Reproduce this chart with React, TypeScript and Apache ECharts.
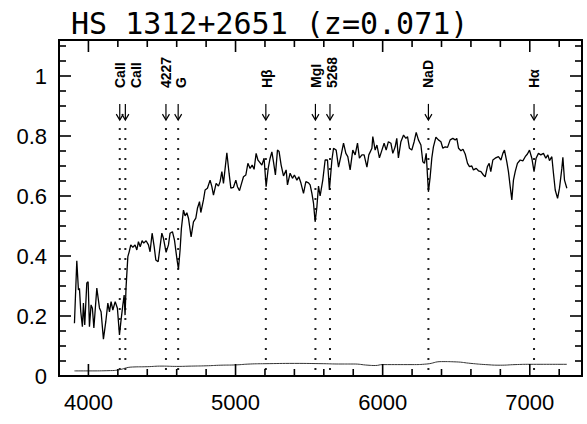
import React, { useEffect, useRef } from "react";
import * as echarts from "echarts";

const titleText = "HS 1312+2651 (z=0.071)";

const wavelength = [
  3905, 3921, 3932, 3939, 3948, 3959, 3966, 3975, 3989, 3998, 4007, 4018, 4027, 4037, 4057, 4075, 4086, 4102, 4118, 4132,
  4143, 4154, 4166, 4182, 4197, 4211, 4222, 4234, 4243, 4249, 4256, 4268, 4277, 4288, 4302, 4317, 4329, 4340, 4352, 4365,
  4376, 4392, 4408, 4419, 4433, 4447, 4458, 4474, 4487, 4499, 4510, 4528, 4544, 4555, 4571, 4585, 4601, 4612, 4623, 4632,
  4646, 4657, 4669, 4680, 4698, 4714, 4730, 4741, 4755, 4764, 4782, 4793, 4809, 4827, 4839, 4850, 4868, 4884, 4895, 4907,
  4918, 4941, 4956, 4968, 4986, 5002, 5013, 5027, 5038, 5054, 5070, 5084, 5099, 5113, 5126, 5140, 5152, 5162, 5179, 5194,
  5208, 5222, 5235, 5247, 5258, 5271, 5285, 5296, 5310, 5326, 5344, 5353, 5371, 5387, 5400, 5417, 5430, 5444, 5462, 5478,
  5496, 5507, 5519, 5530, 5541, 5553, 5564, 5575, 5593, 5609, 5625, 5638, 5655, 5666, 5684, 5700, 5718, 5734, 5750, 5763,
  5779, 5797, 5813, 5829, 5842, 5859, 5874, 5893, 5906, 5927, 5933, 5949, 5961, 5978, 5995, 6010, 6024, 6039, 6056, 6069,
  6085, 6096, 6107, 6124, 6142, 6158, 6169, 6182, 6198, 6214, 6228, 6243, 6260, 6273, 6284, 6296, 6311, 6323, 6334, 6345,
  6362, 6379, 6396, 6409, 6425, 6441, 6459, 6477, 6493, 6504, 6516, 6532, 6546, 6561, 6577, 6590, 6606, 6617, 6636, 6651,
  6668, 6685, 6697, 6712, 6724, 6735, 6749, 6765, 6787, 6804, 6817, 6828, 6844, 6855, 6867, 6878, 6889, 6901, 6916, 6935,
  6953, 6969, 6984, 6998, 7014, 7029, 7043, 7059, 7075, 7093, 7109, 7123, 7134, 7150, 7161, 7173, 7189, 7202, 7218, 7225,
  7236, 7252,
];

const flux = [
  0.176, 0.384, 0.287, 0.292, 0.214, 0.164, 0.243, 0.17, 0.31, 0.314, 0.164, 0.237, 0.226, 0.16, 0.293, 0.227, 0.214, 0.123, 0.181, 0.243,
  0.214, 0.248, 0.22, 0.248, 0.226, 0.137, 0.187, 0.237, 0.27, 0.203, 0.298, 0.398, 0.414, 0.437, 0.429, 0.437, 0.42, 0.448, 0.431, 0.451,
  0.443, 0.451, 0.437, 0.414, 0.476, 0.431, 0.387, 0.381, 0.431, 0.476, 0.459, 0.412, 0.437, 0.476, 0.481, 0.453, 0.392, 0.356, 0.42, 0.492,
  0.553, 0.534, 0.544, 0.526, 0.464, 0.514, 0.526, 0.559, 0.581, 0.545, 0.587, 0.62, 0.626, 0.653, 0.631, 0.603, 0.642, 0.633, 0.648, 0.681,
  0.642, 0.744, 0.676, 0.626, 0.629, 0.653, 0.631, 0.618, 0.637, 0.664, 0.67, 0.709, 0.692, 0.703, 0.689, 0.742, 0.72, 0.714, 0.703, 0.726,
  0.631, 0.692, 0.726, 0.747, 0.714, 0.67, 0.753, 0.748, 0.703, 0.667, 0.687, 0.637, 0.676, 0.659, 0.67, 0.653, 0.664, 0.644, 0.609, 0.648,
  0.644, 0.637, 0.609, 0.576, 0.514, 0.564, 0.633, 0.6, 0.653, 0.72, 0.72, 0.62, 0.72, 0.759, 0.753, 0.696, 0.737, 0.776, 0.742, 0.731,
  0.687, 0.753, 0.737, 0.776, 0.726, 0.737, 0.737, 0.696, 0.737, 0.759, 0.798, 0.753, 0.77, 0.727, 0.753, 0.776, 0.753, 0.781, 0.776, 0.742,
  0.764, 0.792, 0.727, 0.781, 0.803, 0.792, 0.798, 0.759, 0.753, 0.781, 0.812, 0.787, 0.77, 0.714, 0.709, 0.742, 0.614, 0.664, 0.726, 0.764,
  0.796, 0.787, 0.781, 0.759, 0.764, 0.762, 0.787, 0.792, 0.787, 0.792, 0.759, 0.751, 0.756, 0.74, 0.709, 0.698, 0.7, 0.687, 0.692, 0.684,
  0.681, 0.67, 0.664, 0.698, 0.709, 0.681, 0.72, 0.726, 0.731, 0.72, 0.742, 0.753, 0.714, 0.681, 0.631, 0.587, 0.653, 0.681, 0.709, 0.72,
  0.717, 0.731, 0.74, 0.753, 0.726, 0.681, 0.726, 0.742, 0.737, 0.742, 0.726, 0.737, 0.718, 0.731, 0.676, 0.62, 0.592, 0.626, 0.692, 0.729,
  0.653, 0.626,
];

const errWavelength = [3905, 4000, 4150, 4200, 4300, 4400, 4500, 4600, 4700, 4800, 4900, 5000, 5100, 5200, 5400, 5600, 5700, 5800, 5900, 5950, 6000, 6200, 6300, 6400, 6500, 6600, 6700, 6800, 6900, 7000, 7252];
const errFlux = [0.017, 0.017, 0.018, 0.02, 0.03, 0.031, 0.033, 0.032, 0.033, 0.034, 0.036, 0.037, 0.04, 0.041, 0.042, 0.041, 0.04, 0.04, 0.036, 0.035, 0.038, 0.038, 0.04, 0.048, 0.047, 0.042, 0.038, 0.036, 0.038, 0.039, 0.039];

const lineWavelength = [4213, 4251, 4527, 4610, 5206, 5543, 5642, 6311, 7029];
const lineNames = ["CaII", "CaII", "4227", "G", "H\u03b2", "MgI", "5268", "NaD", "H\u03b1"];

// tick values
const xMajorTicks = [4000, 5000, 6000, 7000];
const xMinorTicks = [4200, 4400, 4600, 4800, 5200, 5400, 5600, 5800, 6200, 6400, 6600, 6800, 7200];
const yMajorTicks = [0, 0.2, 0.4, 0.6, 0.8, 1];
const yMinorTicks = [0.05, 0.1, 0.15, 0.25, 0.3, 0.35, 0.45, 0.5, 0.55, 0.65, 0.7, 0.75, 0.85, 0.9, 0.95, 1.05, 1.1];

// annotation layout (styling, in data units of the y axis) and label nudges in px
const LABEL_BASE = 0.96;
const ARROW_TOP = 0.907;
const ARROW_TIP = 0.853;
const DOT_TOP = 0.827;
const LABEL_NUDGE = [0, 11, 0, 3, 1, 1, 2, 0, 0];

const X_MIN = 3800;
const X_MAX = 7355;
const Y_MIN = 0;
const Y_MAX = 1.12;
const MAJOR_LEN = 12;
const MINOR_LEN = 7;
const TICK_W = 1.6;

// Tick marks drawn as thin rect symbols anchored on the frame edges
function tickMarks(values: number[], side: "bottom" | "top" | "left" | "right", len: number) {
  const isX = side === "bottom" || side === "top";
  const data = values.map((v) =>
    isX ? [v, side === "bottom" ? Y_MIN : Y_MAX] : [side === "left" ? X_MIN : X_MAX, v]
  );
  const size = isX ? [TICK_W, len] : [len, TICK_W];
  const offset =
    side === "bottom" ? [0, -len / 2] : side === "top" ? [0, len / 2] : side === "left" ? [len / 2, 0] : [-len / 2, 0];
  return {
    type: "scatter",
    silent: true,
    clip: false,
    z: 6,
    data,
    symbol: "rect",
    symbolSize: size,
    symbolOffset: offset,
    itemStyle: { color: "#000", opacity: 1 },
    emphasis: { disabled: true },
  };
}

export default function App() {
  const ref = useRef<HTMLDivElement>(null);

  useEffect(() => {
    if (!ref.current) return;
    const chart = echarts.init(ref.current, null, { renderer: "svg" });
    const black = "#000";
    const labelFont = { fontFamily: "Liberation Sans", fontSize: 22, color: black };

    chart.setOption({
      animation: false,
      backgroundColor: "#fff",
      title: {
        text: titleText,
        left: 66,
        top: 3,
        textStyle: { fontFamily: "DejaVu Sans Mono", fontSize: 30, fontWeight: "normal", color: black },
      },
      grid: {
        left: 59,
        right: 5,
        top: 40,
        bottom: 48,
        show: true,
        borderColor: black,
        borderWidth: 2,
        backgroundColor: "transparent",
      },
      xAxis: {
        type: "value",
        min: X_MIN,
        max: X_MAX,
        splitNumber: 4,
        splitLine: { show: false },
        axisLine: { show: false },
        axisTick: { show: false },
        axisLabel: {
          show: true,
          margin: 15,
          showMinLabel: false,
          showMaxLabel: false,
          formatter: (v: number) => String(v),
          ...labelFont,
        },
      },
      yAxis: {
        type: "value",
        min: Y_MIN,
        max: Y_MAX,
        splitNumber: 5,
        splitLine: { show: false },
        axisLine: { show: false },
        axisTick: { show: false },
        axisLabel: {
          show: true,
          margin: 12,
          showMaxLabel: false,
          formatter: (v: number) => String(Number(v.toFixed(1))),
          ...labelFont,
        },
      },
      series: [
        tickMarks(xMajorTicks, "bottom", MAJOR_LEN),
        tickMarks(xMajorTicks, "top", MAJOR_LEN),
        tickMarks(xMinorTicks, "bottom", MINOR_LEN),
        tickMarks(xMinorTicks, "top", MINOR_LEN),
        tickMarks(yMajorTicks, "left", MAJOR_LEN),
        tickMarks(yMajorTicks, "right", MAJOR_LEN),
        tickMarks(yMinorTicks, "left", MINOR_LEN),
        tickMarks(yMinorTicks, "right", MINOR_LEN),
        {
          type: "custom",
          silent: true,
          data: lineWavelength.map((w) => [w, LABEL_BASE]),
          renderItem: (params: any, api: any) => {
            const i = params.dataIndex;
            const wl = api.value(0);
            const [x, yText] = api.coord([wl, LABEL_BASE]);
            const yA = api.coord([wl, ARROW_TOP])[1];
            const yT = api.coord([wl, ARROW_TIP])[1];
            const yD = api.coord([wl, DOT_TOP])[1];
            const yB = api.coord([wl, 0])[1];
            return {
              type: "group",
              children: [
                {
                  type: "text",
                  x: x + LABEL_NUDGE[i],
                  y: yText,
                  rotation: Math.PI / 2,
                  style: {
                    text: lineNames[i],
                    fill: black,
                    fontSize: 14,
                    fontWeight: "bold",
                    fontFamily: "Liberation Sans",
                    align: "left",
                    verticalAlign: "middle",
                  },
                },
                {
                  type: "line",
                  shape: { x1: x, y1: yA, x2: x, y2: yT },
                  style: { stroke: black, lineWidth: 1.2 },
                },
                {
                  type: "polyline",
                  shape: { points: [[x - 3.5, yT - 6], [x, yT], [x + 3.5, yT - 6]] },
                  style: { stroke: black, lineWidth: 1.2, fill: null },
                },
                {
                  type: "line",
                  shape: { x1: x, y1: yD, x2: x, y2: yB },
                  style: { stroke: "#222", lineWidth: 2, lineDash: [2, 8] },
                },
              ],
            };
          },
        },
        {
          type: "line",
          data: wavelength.map((w, i) => [w, flux[i]]),
          showSymbol: false,
          lineStyle: { color: black, width: 1.3 },
          silent: true,
          z: 3,
        },
        {
          type: "line",
          data: errWavelength.map((w, i) => [w, errFlux[i]]),
          showSymbol: false,
          smooth: 0.5,
          lineStyle: { color: "#333", width: 1 },
          silent: true,
          z: 3,
        },
      ],
    });

    return () => chart.dispose();
  }, []);

  return (
    <div
      ref={ref}
      style={{ position: "fixed", left: 0, top: 0, width: 587, height: 424, background: "#fff" }}
    />
  );
}
